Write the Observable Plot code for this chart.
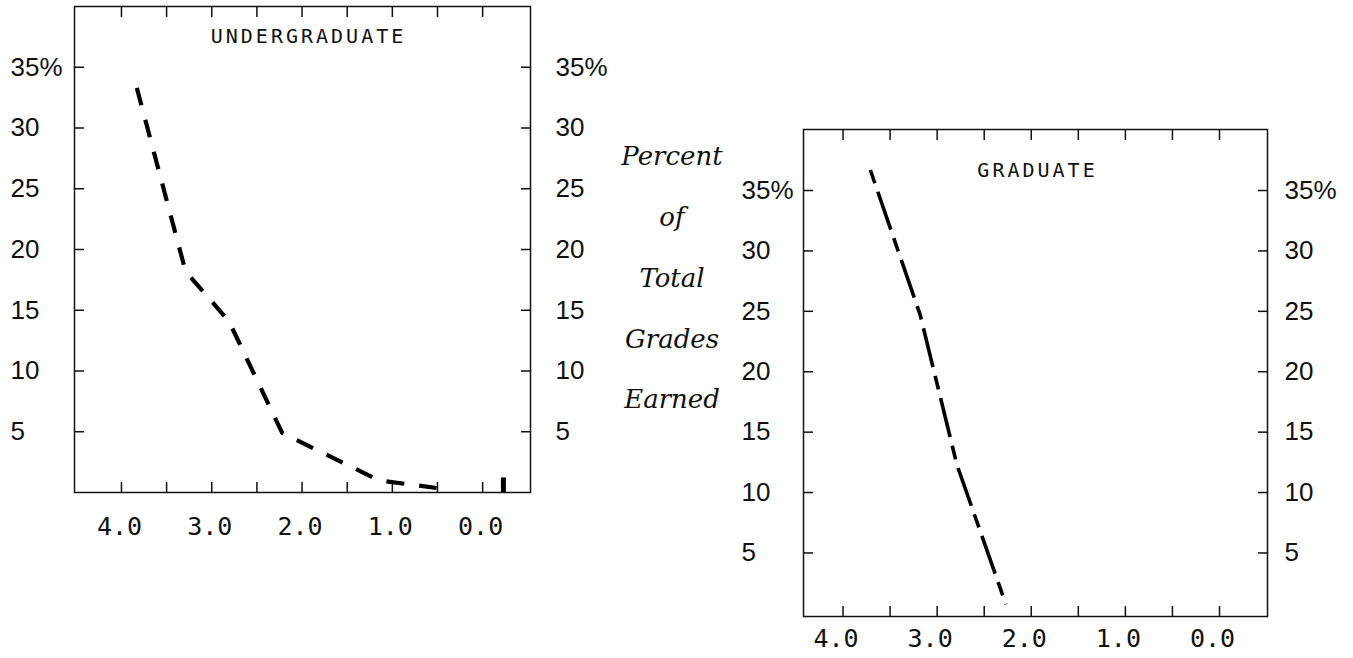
<!DOCTYPE html>
<html>
<head>
<meta charset="utf-8">
<script src="https://cdn.jsdelivr.net/npm/d3@7"></script>
<script src="https://cdn.jsdelivr.net/npm/@observablehq/plot@0.6"></script>
<style>
  body { margin: 0; background: #fff; }
  #root { position: relative; width: 1353px; height: 658px; overflow: hidden; background: #fff; }
  .panel { position: absolute; }
  .panel svg { overflow: visible; background: transparent; }
  .side { position: absolute; left: 612px; width: 120px; text-align: center;
          font-family: "DejaVu Serif", serif; font-style: italic; font-size: 26px; line-height: 26px; color: #111; }
</style>
</head>
<body>
<div id="root"></div>
<script>
// ---- data ----
const yTicks = [5, 10, 15, 20, 25, 30, 35];
const xTicks = [4.0, 3.5, 3.0, 2.5, 2.0, 1.5, 1.0, 0.5, 0.0];
const xLabels = [4.0, 3.0, 2.0, 1.0, 0.0];
const sideLabel = ["Percent", "of", "Total", "Grades", "Earned"];

const underTitle = "UNDERGRADUATE";
const underGrade = [3.83, 3.29, 2.81, 2.22, 1.15, 0.51];
const underPct   = [33.3, 18.2, 14.1, 4.9, 1.0, 0.37];
const underOtherGrade = [-0.23];
const underOtherPct   = [1.2];

const gradTitle = "GRADUATE";
const gradGrade = [3.71, 3.18, 2.79, 2.27];
const gradPct   = [36.7, 24.7, 12.3, 0.75];

// ---- helpers ----
const yFmt = d => d === 35 ? "35%" : String(d);
const xFmt = d3.format(".1f");
const numFont = "Liberation Sans, Arial, sans-serif";
const monoFont = "DejaVu Sans Mono, monospace";
const ink = "#111";

function panel(opts) {
  const rows = opts.grade.map((g, i) => ({grade: g, pct: opts.pct[i]}));
  const marks = [
    Plot.frame({stroke: ink, strokeWidth: 1.5}),
    // inward ticks
    Plot.axisY({anchor: "left", ticks: yTicks, tickSize: 10, insetLeft: 10, fill: "none", label: null, stroke: ink, strokeWidth: 1.5}),
    Plot.axisY({anchor: "right", ticks: yTicks, tickSize: 10, insetRight: 10, fill: "none", label: null, stroke: ink, strokeWidth: 1.5}),
    Plot.axisX({anchor: "bottom", ticks: xTicks, tickSize: 10, insetBottom: 10, fill: "none", label: null, stroke: ink, strokeWidth: 1.5}),
    Plot.axisX({anchor: "top", ticks: xTicks, tickSize: 10, insetTop: 10, fill: "none", label: null, stroke: ink, strokeWidth: 1.5}),
    // tick labels
    Plot.axisY({anchor: "left", ticks: yTicks, tickSize: 0, tickPadding: 0, textAnchor: "start", dx: opts.leftDx,
      tickFormat: yFmt, label: null, fontSize: 26, fontFamily: numFont, fill: ink}),
    Plot.axisY({anchor: "right", ticks: yTicks, tickSize: 0, tickPadding: 0, textAnchor: "start", dx: opts.rightDx,
      tickFormat: yFmt, label: null, fontSize: 26, fontFamily: numFont, fill: ink}),
    Plot.axisX({anchor: "bottom", ticks: xLabels, tickSize: 0, tickPadding: opts.xPad, dx: opts.xDx,
      tickFormat: xFmt, label: null, fontSize: 25, fontFamily: monoFont, fill: ink}),
    // title
    Plot.text([opts.title], {frameAnchor: "top", text: d => d, lineAnchor: "top", dy: opts.titleDy, dx: opts.titleDx,
      fontSize: 20, fontFamily: monoFont, fill: ink}),
    // data line
    Plot.line(rows, {x: "grade", y: "pct", stroke: "#000", strokeWidth: opts.lineWidth,
      strokeDasharray: opts.dash, strokeDashoffset: opts.dashOffset || 0, strokeLinecap: "butt"})
  ];
  if (opts.otherGrade) {
    const other = opts.otherGrade.map((g, i) => ({grade: g, pct: opts.otherPct[i]}));
    marks.push(Plot.ruleX(other, {x: "grade", y: "pct", stroke: "#000", strokeWidth: 5}));
  }
  const svg = Plot.plot({
    width: opts.width, height: opts.height,
    marginLeft: opts.ml, marginRight: opts.mr, marginTop: opts.mt, marginBottom: opts.mb,
    style: {background: "transparent", overflow: "visible", color: ink},
    x: {domain: opts.xDomain, axis: null},
    y: {domain: opts.yDomain, axis: null},
    marks
  });
  // typewriter letter spacing for the panel title
  d3.select(svg).selectAll("text").filter(function() { return this.textContent === opts.title; })
    .style("letter-spacing", "3px");
  return svg;
}

const root = document.getElementById("root");

const left = panel({
  title: underTitle, grade: underGrade, pct: underPct,
  otherGrade: underOtherGrade, otherPct: underOtherPct,
  width: 620, height: 545, ml: 74, mr: 90, mt: 6, mb: 53,
  xDomain: [4.52, -0.53], yDomain: [0, 40],
  leftDx: -64, rightDx: 25, xPad: 25, xDx: -2,
  titleDy: 22, titleDx: 6,
  lineWidth: 4.2, dash: "18,15"
});
const lw = document.createElement("div");
lw.className = "panel"; lw.style.left = "0px"; lw.style.top = "0px";
lw.appendChild(left); root.appendChild(lw);

const right = panel({
  title: gradTitle, grade: gradGrade, pct: gradPct,
  width: 623, height: 558, ml: 73, mr: 86, mt: 29, mb: 42,
  xDomain: [4.42, -0.51], yDomain: [-0.26, 40.05],
  leftDx: -62, rightDx: 17, xPad: 13, xDx: -7,
  titleDy: 33, titleDx: 2,
  lineWidth: 3.6, dash: "40,9,14,9", dashOffset: 49
});
const rw = document.createElement("div");
rw.className = "panel"; rw.style.left = "730px"; rw.style.top = "100px";
rw.appendChild(right); root.appendChild(rw);

// side label
const tops = [143, 204, 265, 326, 386];
sideLabel.forEach((t, i) => {
  const d = document.createElement("div");
  d.className = "side";
  d.style.top = tops[i] + "px";
  d.textContent = t;
  root.appendChild(d);
});
</script>
</body>
</html>
